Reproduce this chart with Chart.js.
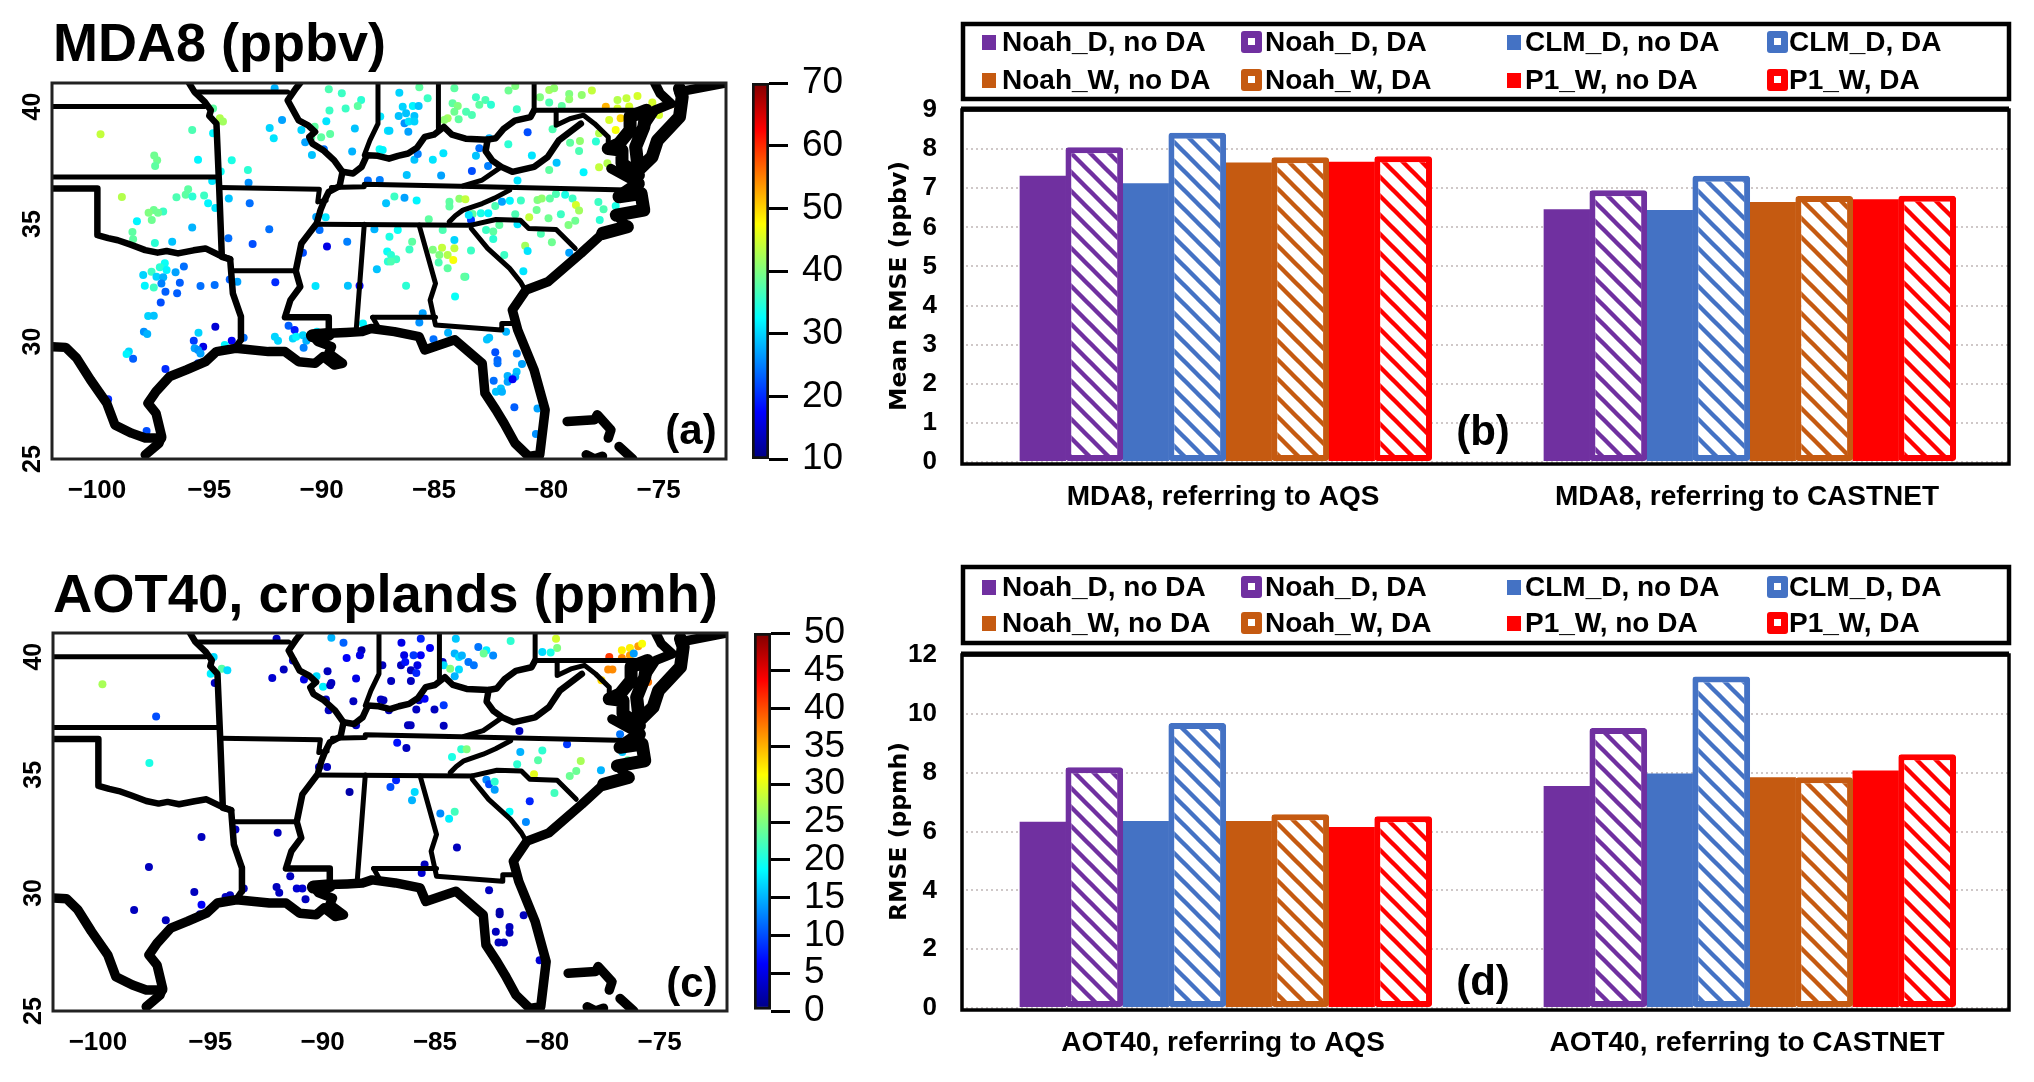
<!DOCTYPE html>
<html>
<head>
<meta charset="utf-8">
<title>MDA8 and AOT40</title>
<script src="https://cdn.jsdelivr.net/npm/chart.js@4"></script>
<style>
  html, body { margin: 0; padding: 0; background: #fff; }
  body { position: relative; width: 2034px; height: 1082px; overflow: hidden; font-family: "Liberation Sans", Arial, sans-serif; }
  canvas { position: absolute; }
  .title { position: absolute; left: 53px; font-size: 54px; font-weight: bold; line-height: 60px; white-space: nowrap; color: #000; }
  .panel { position: absolute; font-size: 42px; font-weight: bold; line-height: 48px; transform: translate(-50%, -50%); color: #000; }
</style>
</head>
<body>
<div class="title" style="top:12px">MDA8 (ppbv)</div>
<div class="title" style="top:564px;font-size:54.4px">AOT40, croplands (ppmh)</div>
<canvas id="mapA" width="730" height="440" style="left:0;top:60px"></canvas>
<canvas id="barA" width="140" height="500" style="left:730px;top:20px"></canvas>
<canvas id="mapC" width="730" height="440" style="left:1px;top:610px"></canvas>
<canvas id="barC" width="140" height="500" style="left:732px;top:570px"></canvas>
<canvas id="chartB" width="1154" height="530" style="left:880px;top:0"></canvas>
<canvas id="chartD" width="1154" height="542" style="left:880px;top:540px"></canvas>
<div class="panel" style="left:691px;top:430px">(a)</div>
<div class="panel" style="left:1483px;top:431px">(b)</div>
<div class="panel" style="left:692px;top:983px">(c)</div>
<div class="panel" style="left:1483px;top:981px">(d)</div>
<script>
// Bar panels
const seriesLabels = ['Noah_D, no DA', 'Noah_D, DA', 'CLM_D, no DA', 'CLM_D, DA', 'Noah_W, no DA', 'Noah_W, DA', 'P1_W, no DA', 'P1_W, DA'];
const seriesColors = ['#7030A0', '#7030A0', '#4472C4', '#4472C4', '#C55A11', '#C55A11', '#FF0000', '#FF0000'];
const mda8Categories = ['MDA8, referring to AQS', 'MDA8, referring to CASTNET'];
const aot40Categories = ['AOT40, referring to AQS', 'AOT40, referring to CASTNET'];
const mda8Aqs = [7.32, 8.05, 7.13, 8.42, 7.66, 7.79, 7.68, 7.82];
const mda8Castnet = [6.46, 6.95, 6.44, 7.32, 6.65, 6.8, 6.72, 6.81];
const aot40Aqs = [6.33, 8.18, 6.36, 9.69, 6.36, 6.59, 6.15, 6.52];
const aot40Castnet = [7.55, 9.52, 7.97, 11.27, 7.84, 7.84, 8.07, 8.63];

// Map axes
const lonTicks = [-100, -95, -90, -85, -80, -75];
const latTicks = [40, 35, 30, 25];

// Site values: lon, lat, value
const mda8Sites = [
  [-99.84,38.82,44],[-95.76,39.0,37],[-94.53,39.5,43],[-94.39,39.36,42],[-94.83,38.86,32],[-94.83,39.92,38],[-97.45,37.92,39],[-97.32,37.71,39],
  [-97.41,37.47,38],[-95.5,37.73,32],[-94.0,37.71,34],[-93.28,37.3,35],[-94.49,37.23,33],[-93.25,36.76,26],[-92.31,39.09,30],[-91.76,39.43,27],
  [-92.13,38.65,31],[-92.09,40.78,28],[-89.68,40.73,37],[-89.1,40.56,36],[-88.24,40.28,35],[-88.39,40.02,38],[-88.93,39.92,36],[-89.65,39.83,36],
  [-89.79,39.37,31],[-88.52,39.06,29],[-90.31,39.14,38],[-89.62,38.83,38],[-90.02,38.69,38],[-90.46,38.69,38],[-90.9,39.0,30],[-90.73,38.48,27],
  [-89.9,38.18,24],[-90.43,37.94,29],[-88.64,38.08,28],[-87.39,39.57,31],[-87.05,38.97,31],[-87.42,38.18,33],[-87.28,38.15,32],[-87.94,36.85,24],
  [-87.41,36.87,25],[-87.13,35.88,29],[-98.89,36.15,43],[-96.46,36.14,37],[-95.94,36.48,38],[-96.05,36.24,38],[-95.75,36.17,35],[-95.23,36.21,36],
  [-95.05,35.88,32],[-94.73,35.68,31],[-94.87,36.83,31],[-94.13,36.09,29],[-93.2,35.88,24],[-97.05,35.53,36],[-97.47,35.6,39],[-97.7,35.48,40],
  [-97.56,35.17,39],[-97.28,35.48,39],[-98.22,35.12,32],[-95.76,34.85,28],[-98.42,34.66,38],[-98.39,34.35,38],[-97.42,34.19,35],[-96.65,34.25,29],
  [-94.15,34.39,24],[-93.07,34.15,22],[-92.33,34.78,24],[-90.09,34.75,24],[-89.82,35.29,31],[-90.24,35.3,27],[-87.65,34.78,28],[-89.76,34.04,16],
  [-88.86,34.25,25],[-90.83,33.78,22],[-87.08,33.83,33],[-87.05,33.4,35],[-87.54,33.07,29],[-96.98,33.33,33],[-97.2,33.16,35],[-96.9,33.04,32],
  [-97.57,32.97,36],[-97.94,32.83,30],[-97.35,32.76,30],[-97.05,32.73,28],[-96.5,32.95,27],[-96.13,33.19,24],
  [-86.54,40.59,30],[-85.65,40.82,38],[-85.28,40.35,36],[-86.39,39.99,30],[-85.94,40.02,32],[-85.68,40.02,29],[-86.57,39.6,29],[-86.24,39.71,29],
  [-85.87,39.6,29],[-86.31,39.29,26],[-86.12,39.36,31],[-85.87,39.36,30],[-86.14,38.93,27],[-86.98,38.97,30],[-84.09,40.78,38],[-83.13,40.39,36],
  [-82.71,40.28,37],[-82.46,40.07,35],[-82.98,40.07,38],[-81.68,40.68,39],[-81.38,40.87,40],[-84.17,40.14,38],[-83.94,40.02,40],[-84.09,39.78,39],
  [-83.57,39.78,37],[-83.31,39.64,37],[-84.39,39.5,42],[-84.54,39.43,41],[-83.9,39.46,38],[-81.31,39.88,36],[-82.54,38.65,28],
  [-80.28,40.39,40],[-79.87,40.7,42],[-79.65,40.78,41],[-79.87,40.17,37],[-79.31,40.02,38],[-78.98,40.53,40],[-78.98,40.31,41],[-78.42,40.49,41],
  [-77.97,40.68,44],[-77.35,39.99,52],[-76.83,40.28,43],[-76.43,40.35,44],[-76.31,40.0,45],[-75.94,40.45,45],[-75.28,40.17,45],[-74.46,40.09,53],
  [-74.98,39.64,45],[-76.83,39.92,45],[-77.2,39.43,45],[-76.69,39.5,50],[-76.91,39.0,47],[-77.65,38.86,43],[-80.83,38.9,22],[-81.69,38.39,35],
  [-80.64,37.91,31],[-79.72,39.03,37],[-78.94,38.46,38],[-78.5,38.53,41],[-78.54,38.11,37],[-77.79,38.51,35],[-79.54,37.61,29],[-79.87,37.3,38],
  [-78.34,37.2,32],[-77.65,37.41,44],[-77.28,37.58,43],[-81.28,36.85,31],[-84.58,38.01,31],[-85.05,37.73,31],[-85.87,37.73,29],[-85.72,37.98,25],
  [-82.98,38.22,24],[-83.13,37.9,29],[-82.59,37.47,25],[-83.31,37.26,22],[-84.68,37.06,27],[-86.21,37.09,29],[-86.76,36.17,36],[-86.31,36.12,27],
  [-85.77,36.0,32],[-84.31,35.95,38],[-84.31,35.74,38],[-83.87,36.07,41],[-83.6,36.05,44],[-85.23,35.2,38],[-82.27,35.77,37],[-81.97,35.95,27],
  [-81.62,35.99,32],[-81.13,36.0,36],[-80.39,36.02,40],[-80.2,36.09,41],[-79.84,36.09,38],[-79.57,36.28,37],[-79.16,36.24,34],[-78.83,36.09,36],
  [-78.68,35.81,45],[-78.54,35.57,42],[-77.68,35.94,36],[-77.45,35.63,37],[-76.91,35.77,34],[-81.38,35.41,37],[-80.43,35.6,39],[-80.76,35.29,44],
  [-79.9,35.24,39],[-79.35,35.41,36],[-78.71,35.14,39],[-79.01,34.96,40],[-77.62,35.17,35],[-82.91,35.46,34],[-82.58,35.46,32],[-83.28,35.43,38],
  [-83.35,35.17,21],[-81.28,34.99,31],[-83.45,35.38,31],[-82.68,34.75,36],[-82.36,34.68,38],[-82.36,34.36,35],[-82.09,34.96,38],[-80.24,34.58,37],
  [-79.75,34.22,39],[-80.94,34.07,42],[-80.83,33.85,31],[-81.87,33.68,36],[-78.98,33.78,27],[-81.02,32.99,31],[-84.61,34.75,37],[-84.09,34.32,30],
  [-85.97,34.25,38],[-86.09,33.92,36],[-85.05,33.9,40],[-84.64,33.99,44],[-84.09,33.97,44],[-84.76,33.68,40],[-84.39,33.68,43],[-84.14,33.47,47],
  [-83.35,33.87,36],[-84.79,33.36,37],[-84.39,33.12,38],[-83.6,32.76,36],[-86.91,33.68,35],[-86.68,33.5,36],[-86.91,33.4,37],[-86.61,34.75,33],[-86.98,34.46,34],
  [-97.87,32.37,32],[-97.47,32.3,36],[-97.13,32.47,25],[-96.31,32.5,23],[-96.95,32.12,23],[-96.43,32.05,23],[-95.39,32.36,24],[-94.76,32.4,24],
  [-94.09,32.64,23],[-93.75,32.54,27],[-92.06,32.52,20],[-90.27,32.36,31],[-88.83,32.37,29],[-88.31,32.37,17],[-97.16,31.66,22],[-97.72,31.08,30],
  [-97.47,31.1,29],[-95.48,30.37,30],[-94.73,30.63,15],[-97.91,30.42,26],[-97.76,30.32,28],[-98.58,29.57,30],[-98.68,29.47,32],[-98.39,29.27,23],
  [-96.95,28.83,20],[-95.69,30.03,21],[-95.65,29.71,27],[-95.27,29.78,16],[-95.5,29.64,26],[-95.39,29.49,27],[-95.5,29.07,22],[-94.0,30.03,17],
  [-93.47,30.16,24],[-94.31,29.85,32],[-91.47,30.67,23],[-91.2,30.49,19],[-92.08,30.2,30],[-91.94,30.03,30],[-91.28,30.13,30],[-91.13,30.2,32],
  [-90.83,30.27,30],[-90.68,30.03,28],[-90.8,29.73,25],[-90.21,30.42,31],[-88.16,30.77,32],[-99.5,27.54,20],[-97.79,26.19,22],
  [-86.24,32.37,35],[-83.65,32.76,38],[-84.06,31.91,33],[-85.5,31.2,27],[-85.65,30.81,26],[-85.02,30.1,24],[-84.37,30.37,28],[-81.79,30.42,28],
  [-82.54,30.16,29],[-82.64,30.09,29],[-82.27,29.54,22],[-82.17,29.21,23],[-82.17,29.07,24],[-81.31,29.49,25],[-81.08,29.04,27],[-81.32,28.71,29],
  [-81.72,28.53,28],[-81.38,28.5,28],[-81.72,28.29,27],[-81.5,28.39,17],[-82.34,28.33,24],[-82.02,28.0,29],[-82.24,27.86,29],[-81.97,27.86,28],
  [-81.42,27.2,23],[-80.39,27.15,27],[-80.46,26.06,26]
];
const aot40Sites = [
  [-99.8,38.83,27],[-97.41,37.47,10],[-97.71,35.5,20],[-94.85,39.98,17],[-94.49,39.49,23],[-94.24,39.42,17],[-94.98,39.28,18],[-94.8,38.88,3],
  [-92.05,40.76,3],[-91.73,39.45,3],[-92.24,39.1,4],[-91.32,39.84,4],[-90.83,39.03,5],[-90.27,39.17,17],[-89.98,38.72,18],[-89.78,39.38,3],
  [-89.61,40.8,15],[-89.07,40.59,11],[-88.93,39.94,6],[-88.27,40.27,3],[-88.34,40.06,5],[-88.51,39.07,5],[-89.61,38.88,3],[-89.66,38.79,3],
  [-89.85,38.19,3],[-88.63,38.11,3],[-89.73,37.73,3],[-86.49,40.59,5],[-85.63,40.76,8],[-85.22,40.37,6],[-86.37,40.06,5],[-85.63,40.06,6],
  [-85.95,40.06,9],[-86.51,39.63,3],[-86.32,39.77,7],[-85.78,39.63,5],[-87.34,39.63,3],[-86.07,39.42,3],[-85.83,39.31,8],[-86.95,38.97,3],
  [-86.07,38.97,3],[-84.66,39.77,3],[-84.07,40.76,16],[-81.63,40.66,21],[-83.07,40.41,12],[-82.71,40.27,18],[-82.83,40.13,24],[-82.41,40.05,13],
  [-84.12,40.13,15],[-83.93,39.98,17],[-83.8,40.05,15],[-83.51,39.77,12],[-83.27,39.63,12],[-84.61,39.63,17],[-84.32,39.49,25],[-83.93,39.45,17],
  [-84.12,39.17,15],[-79.61,40.76,29],[-79.56,40.37,25],[-80.22,40.2,17],[-79.85,40.17,20],[-77.24,39.98,41],[-76.68,40.27,32],[-76.32,40.37,32],
  [-76.68,39.94,37],[-76.32,40.05,36],[-76.15,40.13,14],[-75.95,40.44,36],[-75.78,40.55,31],[-77.29,39.45,37],[-77.1,39.45,37],[-77.59,39.0,33],[-75.51,38.93,38],
  [-87.41,38.18,3],[-87.29,38.15,3],[-87.05,37.73,3],[-85.71,38.15,3],[-85.46,38.22,6],[-84.61,37.94,9],[-85.83,37.76,3],[-85.02,37.76,3],
  [-86.2,37.09,3],[-86.08,37.09,3],[-84.61,37.07,3],[-88.51,37.09,3],[-81.24,36.85,3],[-76.76,36.71,12],[-86.68,36.35,7],[-86.27,36.13,3],
  [-89.8,35.33,3],[-90.16,35.33,3],[-83.83,36.08,21],[-83.59,36.08,25],[-84.24,35.75,20],[-81.2,35.96,15],[-79.12,36.29,9],[-80.22,36.03,21],
  [-80.41,35.61,23],[-81.34,35.44,21],[-76.66,35.96,16],[-76.41,35.61,23],[-78.51,35.58,27],[-77.61,35.19,15],[-78.71,35.16,24],[-79.0,34.95,24],
  [-80.59,35.02,30],[-82.71,34.79,13],[-82.59,34.6,10],[-82.34,34.7,21],[-82.34,34.37,14],[-79.68,34.23,22],[-80.78,33.88,8],[-81.68,33.43,19],
  [-80.95,33.0,13],[-84.76,33.36,13],[-84.12,33.43,22],[-84.37,33.14,18],[-84.02,31.92,3],[-86.73,34.77,8],[-86.98,34.48,10],[-85.9,34.27,17],
  [-86.02,33.92,15],[-88.8,34.27,2],[-93.88,32.68,3],[-92.0,32.54,3],[-95.39,32.37,3],[-97.73,31.1,3],[-95.71,30.04,3],[-95.39,29.5,6],
  [-98.39,29.27,3],[-96.98,28.84,3],[-95.46,29.1,3],[-94.32,29.83,3],[-94.12,29.9,3],[-93.51,30.18,3],[-92.05,30.25,3],[-91.93,30.01,3],
  [-91.44,30.7,3],[-91.15,30.18,4],[-90.9,30.18,4],[-90.76,29.73,3],[-85.46,31.2,3],[-85.59,30.84,4],[-82.59,30.11,3],[-82.12,29.2,2],
  [-82.12,29.1,2],[-81.05,29.05,3],[-81.68,28.56,3],[-81.68,28.31,3],[-82.29,28.35,3],[-82.17,27.9,3],[-81.93,27.9,3],[-80.34,27.15,4]
];

// State borders, lon/lat
const stateLines = [
  [[-102,40.0],[-95.2,40.0]],
  [[-102,37.0],[-94.68,37.0]],
  [[-95.66,40.62],[-91.51,40.62]],
  [[-93.95,33.01],[-91.15,33.01]],
  [[-94.56,36.55],[-90.1,36.48],[-90.17,35.94],[-89.8,36.0]],
  [[-89.56,36.55],[-88.1,36.58],[-88.1,36.69],[-83.83,36.61],[-75.9,36.44]],
  [[-83.71,36.62],[-82.85,36.87],[-82.0,37.43]],
  [[-81.63,36.44],[-82.3,36.1],[-82.85,35.87],[-83.71,35.59],[-84.05,35.35],[-84.32,35.09]],
  [[-90.22,34.99],[-83.34,34.95]],
  [[-83.34,34.95],[-82.24,35.19],[-81.15,35.16],[-80.78,34.81],[-79.56,34.77],[-78.71,33.96]],
  [[-83.34,34.81],[-82.61,33.96],[-81.63,33.11],[-81.15,32.54],[-80.9,32.12]],
  [[-88.1,34.99],[-88.46,30.49]],
  [[-85.66,34.95],[-84.93,32.47],[-85.17,31.76],[-84.93,30.7],[-82.0,30.49],[-81.98,30.77],[-81.39,30.77]],
  [[-87.73,31.03],[-84.93,31.03]],
  [[-87.73,31.03],[-87.49,30.63]],
  [[-87.49,41],[-87.49,39.27],[-87.85,38.56],[-88.1,37.93]],
  [[-84.8,41],[-84.8,39.06]],
  [[-80.54,41],[-80.54,39.84],[-75.54,39.84]],
  [[-79.56,39.84],[-79.56,39.2],[-78.95,39.48],[-78.34,39.63],[-77.85,39.27],[-77.24,38.7],[-77.24,38.21]]
];
const riverLines = [
  [[-102,36.51],[-99.98,36.51],[-99.98,34.53],[-99.5,34.4],[-99.07,34.31],[-98.5,34.12],[-97.85,33.89],[-97.3,33.78],[-96.9,33.85],[-96.39,33.75],[-95.7,33.88],[-95.17,33.96],[-94.5,33.65],[-94.07,33.5]],
  [[-95.9,41],[-95.66,40.62],[-95.2,40.2],[-94.93,39.84],[-95.0,39.6],[-94.68,39.27],[-94.56,36.58],[-94.44,33.6],[-94.07,33.5],[-93.95,32.05],[-93.59,31.06],[-93.59,30.07],[-93.83,29.75]],
  [[-90.95,41],[-91.15,40.76],[-91.51,40.26],[-91.02,39.41],[-90.6,39.2],[-90.29,38.92],[-90.55,38.7],[-90.41,38.42],[-89.93,38.14],[-89.44,37.71],[-89.07,37.22],[-89.2,36.61],[-89.68,36.37],[-89.9,35.95],[-90.05,35.59],[-90.22,35.02],[-90.9,34.17],[-91.15,33.01],[-90.95,32.33],[-91.39,31.76],[-91.63,31.03],[-89.68,31.03],[-89.68,30.42]],
  [[-80.54,39.84],[-80.7,39.55],[-81.4,39.4],[-81.9,39.05],[-82.25,38.65],[-82.61,38.59],[-83.59,38.63],[-84.2,38.8],[-84.56,39.13],[-85.0,38.8],[-85.41,38.71],[-85.75,38.25],[-86.15,38.0],[-86.6,37.9],[-87.0,37.78],[-87.5,37.9],[-87.98,37.93],[-88.22,37.43],[-88.6,37.15],[-89.07,37.22]],
  [[-82.61,38.59],[-82.7,38.1],[-82.4,37.7],[-82.0,37.43],[-81.51,37.22],[-80.54,37.43],[-79.93,37.86],[-79.44,38.56],[-78.46,39.27]]
];
const coastLines = [
  [[-102,29.78],[-101.39,29.75],[-100.9,29.29],[-100.29,28.37],[-99.56,27.37],[-99.2,26.45],[-98.46,26.1],[-97.85,25.89],[-97.12,25.89]],
  [[-97.85,25.18],[-97.24,25.67],[-97.12,25.96],[-97.37,26.95],[-97.73,27.37],[-97.37,27.87],[-96.76,28.51],[-96.02,28.79],[-95.17,29.14],[-94.68,29.57],[-93.83,29.71],[-92.37,29.57],[-91.63,29.57],[-91.02,29.14],[-90.29,29.07],[-89.93,29.36],[-89.44,29.0],[-89.07,29.07],[-89.68,29.5],[-89.56,29.78],[-90.17,30.0],[-90.41,30.28],[-89.68,30.35],[-88.9,30.38],[-88.22,30.42],[-87.8,30.55],[-86.76,30.42],[-85.66,30.21],[-85.41,29.64],[-84.07,30.07],[-82.85,29.07],[-82.73,27.8],[-82.24,27.09],[-81.88,26.52],[-81.39,25.67],[-80.78,25.11],[-80.29,25.18],[-80.05,27.09],[-80.54,28.79],[-81.27,30.49],[-81.51,31.34],[-80.9,32.19],[-79.93,32.54],[-78.46,33.75],[-77.49,34.6],[-76.39,34.88],[-76.88,35.38],[-75.66,35.59],[-75.78,36.3],[-76.76,36.16],[-75.9,36.72],[-77.12,37.36]],
  [[-75.17,41],[-74.93,40.55],[-74.44,40.12],[-75.17,39.84],[-75.66,39.13]],
  [[-74.1,40.62],[-72,41]],
  [[-79.07,26.6],[-77.85,26.67],[-77.73,26.88],[-77.12,26.24],[-77.24,25.89]],
  [[-76.76,25.53],[-76.15,25]],
  [[-78.22,25.18],[-77.85,25],[-77.5,25.12]]
];
// Heaviest parts of the coast: Chesapeake, Outer Banks, Mississippi delta
const bayLines = [
  [[-75.9,37.08],[-76.63,37.57],[-76.63,38.14],[-77.24,38.21],[-76.76,38.42],[-76.27,38.99],[-76.27,39.56],[-75.54,39.84],[-75.66,39.13],[-76.02,38.28],[-75.9,37.29],[-75.29,37.86],[-75.05,38.56],[-74.07,39.56],[-73.95,40.41],[-74.07,40.76]],
  [[-76.88,35.38],[-75.66,35.59],[-75.78,36.3],[-76.76,36.16],[-75.9,36.72]],
  [[-77.49,34.6],[-76.39,34.88]],
  [[-90.41,30.25],[-89.7,30.3]]
];

function jet(t) {
  const stops = [[0, 0, 0, 128], [0.125, 0, 0, 255], [0.375, 0, 255, 255], [0.625, 255, 255, 0], [0.875, 255, 0, 0], [1, 128, 0, 0]];
  t = Math.max(0, Math.min(1, t));
  for (let i = 1; i < stops.length; i++) {
    if (t <= stops[i][0]) {
      const a = stops[i - 1], b = stops[i], f = (t - a[0]) / (b[0] - a[0]);
      return 'rgb(' + [1, 2, 3].map(k => Math.round(a[k] + (b[k] - a[k]) * f)).join(',') + ')';
    }
  }
  return 'rgb(128,0,0)';
}

function toLine(points, width) {
  return {
    data: points.map(p => ({ x: p[0], y: p[1] })),
    showLine: true, pointRadius: 0, borderColor: '#000', borderWidth: width,
    borderCapStyle: 'round', borderJoinStyle: 'round', tension: 0
  };
}

// Frame and rotated latitude labels for the maps
const mapFrame = {
  id: 'mapFrame',
  afterDraw(chart) {
    const c = chart.ctx, a = chart.chartArea, y = chart.scales.y;
    c.save();
    c.strokeStyle = '#222';
    c.lineWidth = 3;
    c.strokeRect(a.left, a.top, a.right - a.left, a.bottom - a.top);
    c.fillStyle = '#000';
    c.font = 'bold 25px "Liberation Sans"';
    c.textAlign = 'center';
    c.textBaseline = 'middle';
    latTicks.forEach(v => {
      c.save();
      c.translate(33, y.getPixelForValue(v));
      c.rotate(-Math.PI / 2);
      c.fillText(String(v), 0, 0);
      c.restore();
    });
    c.restore();
  }
};

function drawMap(id, sites, vMin, vMax, axisHeight) {
  const datasets = stateLines.map(l => toLine(l, 5))
    .concat(riverLines.map(l => toLine(l, 6.5)))
    .concat(coastLines.map(l => toLine(l, 9.5)))
    .concat(bayLines.map(l => toLine(l, 13)));
  datasets.push({
    data: sites.map(s => ({ x: s[0], y: s[1], v: s[2] })),
    showLine: false, pointRadius: 4, borderWidth: 0,
    backgroundColor: ctx => jet((ctx.raw.v - vMin) / (vMax - vMin))
  });
  new Chart(document.getElementById(id), {
    type: 'scatter',
    data: { datasets: datasets },
    plugins: [mapFrame],
    options: {
      responsive: false, animation: false, events: [],
      layout: { padding: { top: 23, right: 3, left: 0, bottom: 0 } },
      plugins: { legend: { display: false }, tooltip: { enabled: false } },
      scales: {
        x: {
          type: 'linear', min: -102, max: -72,
          afterBuildTicks: s => { s.ticks = lonTicks.map(v => ({ value: v })); },
          afterFit: s => { s.height = axisHeight; },
          grid: { display: false }, border: { display: false },
          ticks: {
            color: '#000', padding: 8, maxRotation: 0, autoSkip: false,
            font: { family: 'Liberation Sans', weight: 'bold', size: 26 },
            callback: v => String(v).replace('-', '\u2212')
          }
        },
        y: {
          type: 'linear', min: 25, max: 41,
          afterFit: s => { s.width = 52; },
          grid: { display: false }, border: { display: false },
          ticks: { display: false }
        }
      }
    }
  });
}

function drawColorbar(id, vMin, vMax, step, padTop, padBottom) {
  new Chart(document.getElementById(id), {
    type: 'bar',
    data: {
      labels: [''],
      datasets: [{
        data: [[vMin, vMax]],
        barPercentage: 1, categoryPercentage: 1,
        borderColor: '#111', borderWidth: 3, borderSkipped: false,
        backgroundColor: ctx => {
          const a = ctx.chart.chartArea;
          if (!a) return '#000';
          const g = ctx.chart.ctx.createLinearGradient(0, a.bottom, 0, a.top);
          [0, 0.125, 0.375, 0.625, 0.875, 1].forEach(t => g.addColorStop(t, jet(t)));
          return g;
        }
      }]
    },
    options: {
      responsive: false, animation: false, events: [],
      layout: { padding: { top: padTop, left: 22, right: 0, bottom: padBottom } },
      plugins: { legend: { display: false }, tooltip: { enabled: false } },
      scales: {
        x: { display: false },
        y: {
          position: 'right', min: vMin, max: vMax,
          afterFit: s => { s.width = 101; },
          border: { display: false },
          grid: { drawOnChartArea: false, color: '#000', lineWidth: 3, tickLength: 19 },
          ticks: {
            stepSize: step, padding: 14, color: '#000', autoSkip: false,
            font: { family: 'Liberation Sans', size: 37 }
          }
        }
      }
    }
  });
}

function hatch(color) {
  const s = 19, tile = document.createElement('canvas');
  tile.width = s; tile.height = s;
  const c = tile.getContext('2d');
  c.fillStyle = '#fff';
  c.fillRect(0, 0, s, s);
  c.strokeStyle = color;
  c.lineWidth = 4.4;
  [-s, 0, s].forEach(d => {
    c.beginPath();
    c.moveTo(d - 2, -2);
    c.lineTo(d + s + 2, s + 2);
    c.stroke();
  });
  return c.createPattern(tile, 'repeat');
}

// Legend box and chart frame of the bar panels
const seriesLegend = {
  id: 'seriesLegend',
  afterDraw(chart, args, opts) {
    const c = chart.ctx, a = chart.chartArea;
    const markX = [102, 361, 627, 887], textX = [122, 385, 645, 909];
    c.save();
    c.strokeStyle = '#000';
    c.lineWidth = 4.5;
    c.strokeRect(a.left + 2, opts.top, a.right - a.left - 2, opts.bottom - opts.top);
    c.font = 'bold 28px "Liberation Sans"';
    c.textBaseline = 'middle';
    chart.data.datasets.forEach((d, i) => {
      const col = i % 4, y = opts.rows[Math.floor(i / 4)];
      const isDA = i % 2 === 1;
      c.fillStyle = seriesColors[i];
      if (isDA) {
        c.beginPath();
        c.roundRect(markX[col], y - 11, 21, 22, 3);
        c.fill();
        c.fillStyle = '#fff';
        c.fillRect(markX[col] + 7, y - 4, 7, 7);
      } else {
        c.fillRect(markX[col], y - 7, 14, 15);
      }
      c.fillStyle = '#000';
      c.fillText(d.label, textX[col], y + 1);
    });
    // plot frame
    c.strokeStyle = '#000';
    c.lineWidth = 3.5;
    c.strokeRect(a.left + 1, a.top, a.right - a.left - 1, a.bottom - a.top + 2);
    c.lineWidth = 5;
    c.beginPath();
    c.moveTo(a.left, a.top - 1);
    c.lineTo(a.right, a.top - 1);
    c.stroke();
    c.restore();
  }
};

function drawBars(id, categories, first, second, yMax, step, yTitle, pad, legendBox, axisHeight) {
  new Chart(document.getElementById(id), {
    type: 'bar',
    data: {
      labels: categories,
      datasets: seriesLabels.map((label, i) => {
        const isDA = i % 2 === 1;
        return {
          label: label,
          data: [first[i], second[i]],
          backgroundColor: isDA ? hatch(seriesColors[i]) : seriesColors[i],
          borderColor: seriesColors[i],
          borderWidth: isDA ? 6 : 0,
          borderSkipped: false,
          borderRadius: isDA ? 3 : 0,
          categoryPercentage: 0.786,
          barPercentage: isDA ? 1.12 : 0.9
        };
      })
    },
    plugins: [seriesLegend],
    options: {
      responsive: false, animation: false, events: [],
      layout: { padding: { top: pad, right: 25, left: 0, bottom: 0 } },
      plugins: { legend: { display: false }, tooltip: { enabled: false }, seriesLegend: legendBox },
      scales: {
        x: {
          afterFit: s => { s.height = axisHeight; },
          grid: { display: false }, border: { display: false },
          ticks: {
            color: '#000', padding: 10, maxRotation: 0, autoSkip: false,
            font: { family: 'Liberation Sans', weight: 'bold', size: 28 }
          }
        },
        y: {
          min: 0, max: yMax,
          afterFit: s => { s.width = 81; },
          border: { display: false, dash: [2, 3] },
          grid: { color: '#cfc8c8', lineWidth: 2, drawTicks: false },
          title: {
            display: true, text: yTitle, color: '#000', padding: { top: 6, bottom: 0 },
            font: { family: 'DejaVu Sans', weight: 'bold', size: 23.5 }
          },
          ticks: {
            stepSize: step, padding: 24, color: '#000', autoSkip: false,
            font: { family: 'Liberation Sans', weight: 'bold', size: 26 }
          }
        }
      }
    }
  });
}

drawMap('mapA', mda8Sites, 10, 70, 41);
drawColorbar('barA', 10, 70, 10, 63, 61);
drawMap('mapC', aot40Sites, 0, 50, 39);
drawColorbar('barC', 0, 50, 5, 63, 59);
drawBars('chartB', mda8Categories, mda8Aqs, mda8Castnet, 9, 1, 'Mean RMSE (ppbv)', 110, { top: 24, bottom: 99, rows: [42, 80] }, 68);
drawBars('chartD', aot40Categories, aot40Aqs, aot40Castnet, 12, 2, 'RMSE (ppmh)', 115, { top: 27, bottom: 103, rows: [47, 83] }, 74);
</script>
</body>
</html>
